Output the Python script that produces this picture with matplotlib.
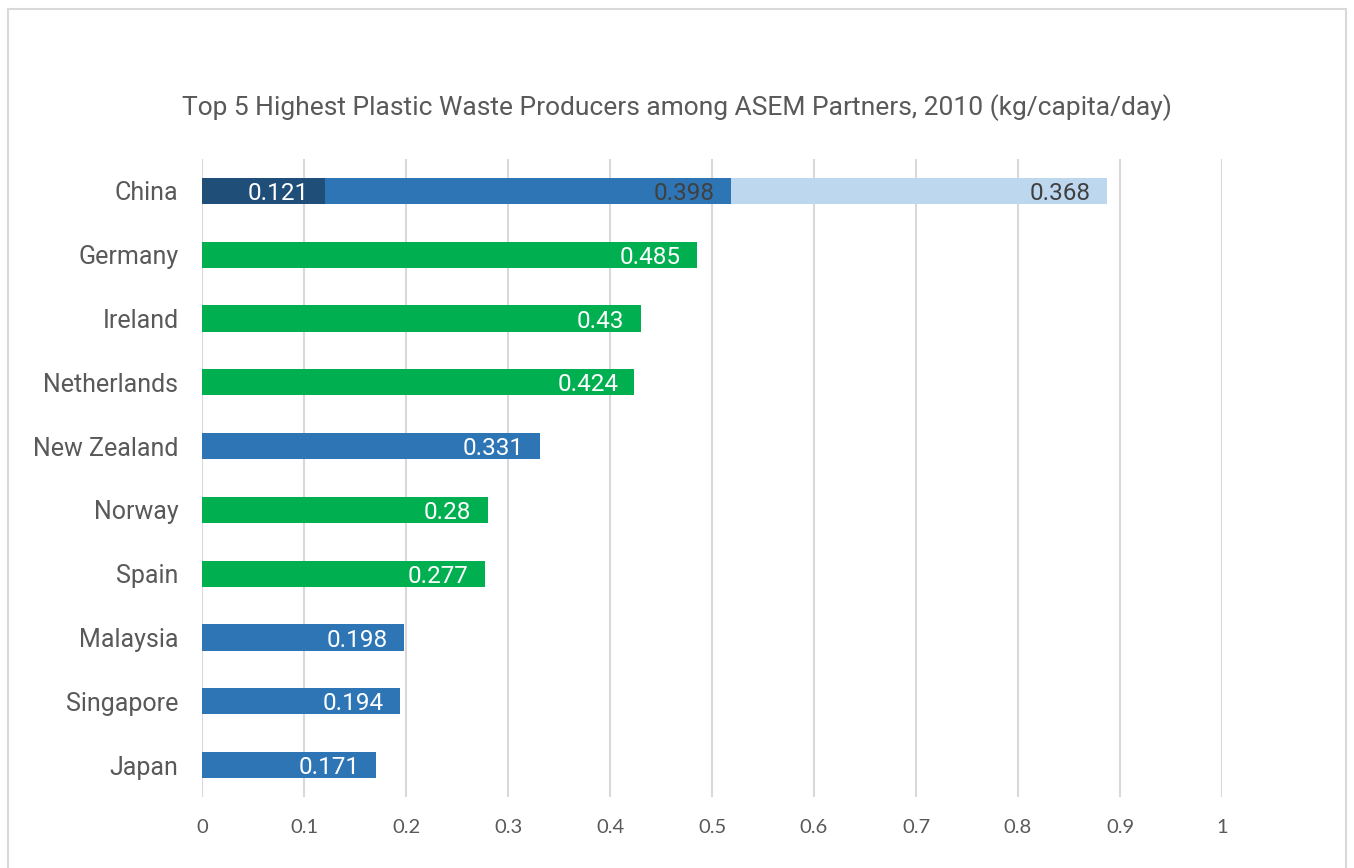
import matplotlib.pyplot as plt
from matplotlib.patches import Rectangle

# plastic waste per capita, kg/capita/day
countries = ["China", "Germany", "Ireland", "Netherlands", "New Zealand",
             "Norway", "Spain", "Malaysia", "Singapore", "Japan"]
values = [0.121, 0.485, 0.43, 0.424, 0.331, 0.28, 0.277, 0.198, 0.194, 0.171]
bar_colors = ["#1F4E79", "#00B050", "#00B050", "#00B050", "#2E75B6",
              "#00B050", "#00B050", "#2E75B6", "#2E75B6", "#2E75B6"]

# China has two more stacked segments
china_extra = [0.398, 0.368]
china_extra_colors = ["#2E75B6", "#BDD7EE"]

xticks = [0, 0.1, 0.2, 0.3, 0.4, 0.5, 0.6, 0.7, 0.8, 0.9, 1]
xtick_labels = ["0", "0.1", "0.2", "0.3", "0.4", "0.5", "0.6", "0.7", "0.8", "0.9", "1"]

title = "Top 5 Highest Plastic Waste Producers among ASEM Partners, 2010 (kg/capita/day)"

fig = plt.figure(figsize=(13.54, 8.68), dpi=100)
ax = fig.add_axes([0.1492, 0.0818, 0.7533, 0.735])

# outer frame
fig.patches.append(Rectangle((8 / 1354, -0.01), (1346 - 8) / 1354, 1 - 9 / 868 + 0.01,
                             transform=fig.transFigure, fill=False,
                             edgecolor="#D9D9D9", linewidth=1.5))

ypos = list(range(len(countries)))
bar_h = 0.41
lbl_size = 17.5

bars = ax.barh(ypos, values, height=bar_h, color=bar_colors, zorder=3)
for b, v in zip(bars, values):
    ax.text(v - 0.016, b.get_y() + bar_h / 2, f"{v:g}", ha="right", va="center_baseline",
            color="white", fontsize=lbl_size, family="Roboto", zorder=4)

# stacked China segments
left = values[0]
for v, c in zip(china_extra, china_extra_colors):
    ax.barh(0, v, left=left, height=bar_h, color=c, zorder=3)
    ax.text(left + v - 0.016, 0, f"{v:g}", ha="right", va="center_baseline",
            color="#404040", fontsize=lbl_size, family="Roboto", zorder=4)
    left += v

ax.set_xlim(0, 1)
ax.set_ylim(len(countries) - 0.5, -0.5)
ax.set_yticks(ypos)
ax.set_yticklabels(countries, fontsize=18, family="Roboto", color="#595959")
ax.set_xticks(xticks)
ax.set_xticklabels(xtick_labels, fontsize=14.5, family="Lato", color="#595959")
ax.tick_params(axis="both", length=0)
ax.tick_params(axis="y", pad=17)
ax.tick_params(axis="x", pad=16)
ax.grid(axis="x", color="#D9D9D9", linewidth=1.5, zorder=0)
for s in ax.spines.values():
    s.set_visible(False)

fig.text(0.5, 1 - 108 / 868, title, ha="center", va="center",
         fontsize=19, family="Roboto", color="#595959")

fig.savefig("out.png", dpi=100)
